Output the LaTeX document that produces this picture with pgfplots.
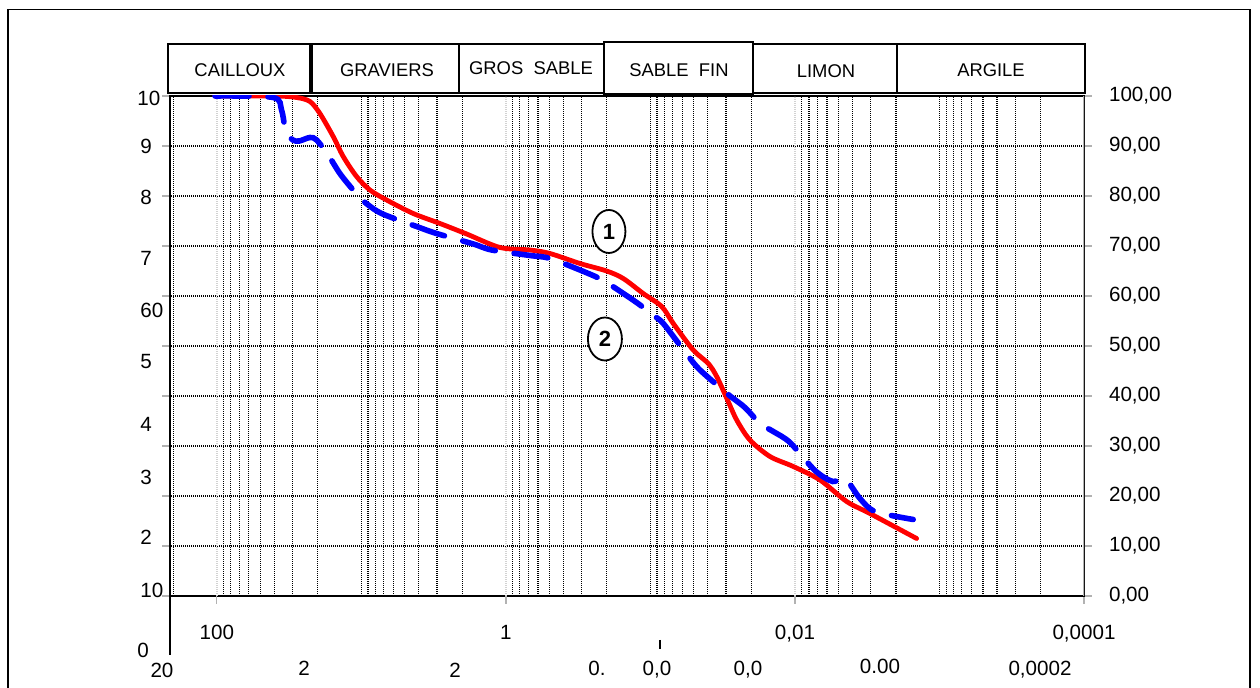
\documentclass[border=0pt]{standalone}
\usepackage{fontspec}
\setmainfont{Liberation Sans}
\usepackage{pgfplots}
\pgfplotsset{compat=1.18}
\usetikzlibrary{shapes.geometric}
\begin{document}
\begin{tikzpicture}[x=1pt,y=1pt]
\path[use as bounding box] (0,0) rectangle (630,344);
\draw[line width=0.6pt] (4,-10) -- (4,339.35) -- (625,339.35) -- (625,-10);
\begin{axis}[at={(85pt,46pt)}, anchor=south west, scale only axis,
  width=457pt, height=250pt,
  xmode=log, x dir=reverse, xmin=1e-4, xmax=211, ymin=0, ymax=100,
  xtick={1e-4,1e-2,1,100}, xticklabels={{0,0001},{0,01},1,100},
  minor xtick={2e-4,3e-4,4e-4,5e-4,6e-4,7e-4,8e-4,9e-4,1e-3,2e-3,3e-3,4e-3,5e-3,6e-3,7e-3,8e-3,9e-3,2e-2,3e-2,4e-2,5e-2,6e-2,7e-2,8e-2,9e-2,0.1,0.2,0.3,0.4,0.5,0.6,0.7,0.8,0.9,2,3,4,5,6,7,8,9,10,20,30,40,50,60,70,80,90,200},
  extra x ticks={100,1,0.01}, extra x tick labels={},
  extra x tick style={grid=major, major grid style={gray!35, line width=0.7pt}},
  xminorgrids=true, ymajorgrids=true,
  minor grid style={black, dash pattern=on 0.6pt off 0.4pt, line width=0.55pt},
  major grid style={black, dash pattern=on 0.6pt off 0.4pt, line width=0.55pt},
  ytick={0,10,20,30,40,50,60,70,80,90,100},
  yticklabels={{0,00},{10,00},{20,00},{30,00},{40,00},{50,00},{60,00},{70,00},{80,00},{90,00},{100,00}},
  yticklabel pos=right, ytick pos=both, xtick pos=bottom,
  tick align=outside, major tick length=4pt, minor tick length=0pt,
  tick style={gray!60, line width=0.6pt},
  axis line style={line width=1.3pt},
  tick label style={font=\fontsize{10.3}{12}\selectfont},
  xticklabel style={yshift=-7pt},
  yticklabel style={xshift=5pt},
  /pgf/number format/assume math mode=true,
]
\addplot[red, line width=2.4pt, smooth, tension=0.5, line cap=round] coordinates {
(103,100) (40,100) (28.1,99.7) (22.7,98.9) (19.37,96.5) (15.67,91.9) (13.36,87.9)
(10.80,83.9) (8.73,81.2) (6.69,79.2) (4.38,76.5) (2.86,74.5) (1.87,72.4) (1.10,69.7)
(0.682,69.2) (0.496,68.5) (0.3076,66.5) (0.201,65.0) (0.1542,63.5) (0.1122,60.5)
(0.0836,57.9) (0.0695,54.5) (0.0506,49.2) (0.0398,46.5) (0.0348,43.9) (0.0297,39.6)
(0.0253,35.2) (0.0205,31.2) (0.0149,27.9) (0.01028,25.9) (0.00671,23.2) (0.00439,18.9)
(0.00303,16.5) (0.00144,11.5)};
\addplot[blue, line width=2.8pt, smooth, tension=0.5, line cap=round, dash pattern=on 17pt off 9.5pt] coordinates {
(103,100) (40.8,99.7) (35.7,97.2) (33.3,92.9) (29.8,91.2) (26.9,91.0) (22.7,91.7)
(20.4,91.2) (16.98,88.2) (14.09,84.5) (11.40,81.2) (9.61,78.9) (7.25,76.5) (4.15,73.9)
(3.02,72.5) (1.68,70.4) (1.256,69.2) (0.682,68.1) (0.496,67.5) (0.2794,64.7)
(0.2065,62.9) (0.1247,58.7) (0.0966,56.2) (0.0815,54.5) (0.0562,48.4) (0.0454,45.2)
(0.02894,40.3) (0.0222,37.7) (0.01746,34.5) (0.01413,32.9) (0.01083,30.7)
(0.00727,25.1) (0.00548,22.9) (0.00451,23.5) (0.00355,19.5) (0.00279,16.9) (0.00152,15.3)};
\node[ellipse, draw, fill=white, line width=0.9pt, minimum width=16.5pt, minimum height=21.5pt, inner sep=0pt,
  font=\bfseries\fontsize{11}{13}\selectfont] at (axis cs:0.1937,72.9) {1};
\node[ellipse, draw, fill=white, line width=0.9pt, minimum width=17pt, minimum height=21.5pt, inner sep=0pt,
  font=\bfseries\fontsize{11}{13}\selectfont] at (axis cs:0.2065,51.4) {2};
\draw[gray!60, line width=1.4pt] (rel axis cs:1,0) -- (rel axis cs:1,1);
\end{axis}
% left axis extension
\draw[line width=1.3pt] (85,46) -- (85,16.5);
\draw[line width=0.8pt] (330,24) -- (330,19.5);
% category boxes
\begin{scope}[line width=1pt]
\draw (84,297.5) rectangle (155,322);
\draw (156,297.5) rectangle (229.5,322);
\draw (229.5,297.5) rectangle (302,322);
\draw (302,297) rectangle (376.5,323);
\draw (376.5,297.5) rectangle (448.5,322);
\draw (448.5,297.5) rectangle (542.5,322);
\end{scope}
\begin{scope}[every node/.style={font=\fontsize{9.2}{11}\selectfont, inner sep=0pt}]
\node at (120,309) {CAILLOUX};
\node at (193.5,309) {GRAVIERS};
\node at (265.5,310) {GROS\ \ SABLE};
\node at (339.5,309) {SABLE\ \ FIN};
\node at (413,308.5) {LIMON};
\node at (495.5,309) {ARGILE};
\end{scope}
\begin{scope}[every node/.style={font=\fontsize{10.3}{12}\selectfont, inner sep=0pt}]
\node[anchor=west] at (68.5,295) {10};
\node[anchor=west] at (70,271) {9};
\node[anchor=west] at (70,245.5) {8};
\node[anchor=west] at (70,215) {7};
\node[anchor=west] at (70,189) {60};
\node[anchor=west] at (70,163) {5};
\node[anchor=west] at (70,132) {4};
\node[anchor=west] at (70,105.5) {3};
\node[anchor=west] at (70,75.5) {2};
\node[anchor=west] at (70,49) {10};
\node[anchor=west] at (68.5,19) {0};
\node at (81,9) {20};
\node at (152,10) {2};
\node at (227.5,9) {2};
\node at (298.5,10) {0.};
\node at (328.5,9) {0,0};
\node at (374,9) {0,0};
\node at (440,11) {0.00};
\node at (520,9) {0,0002};
\end{scope}
\end{tikzpicture}
\end{document}
